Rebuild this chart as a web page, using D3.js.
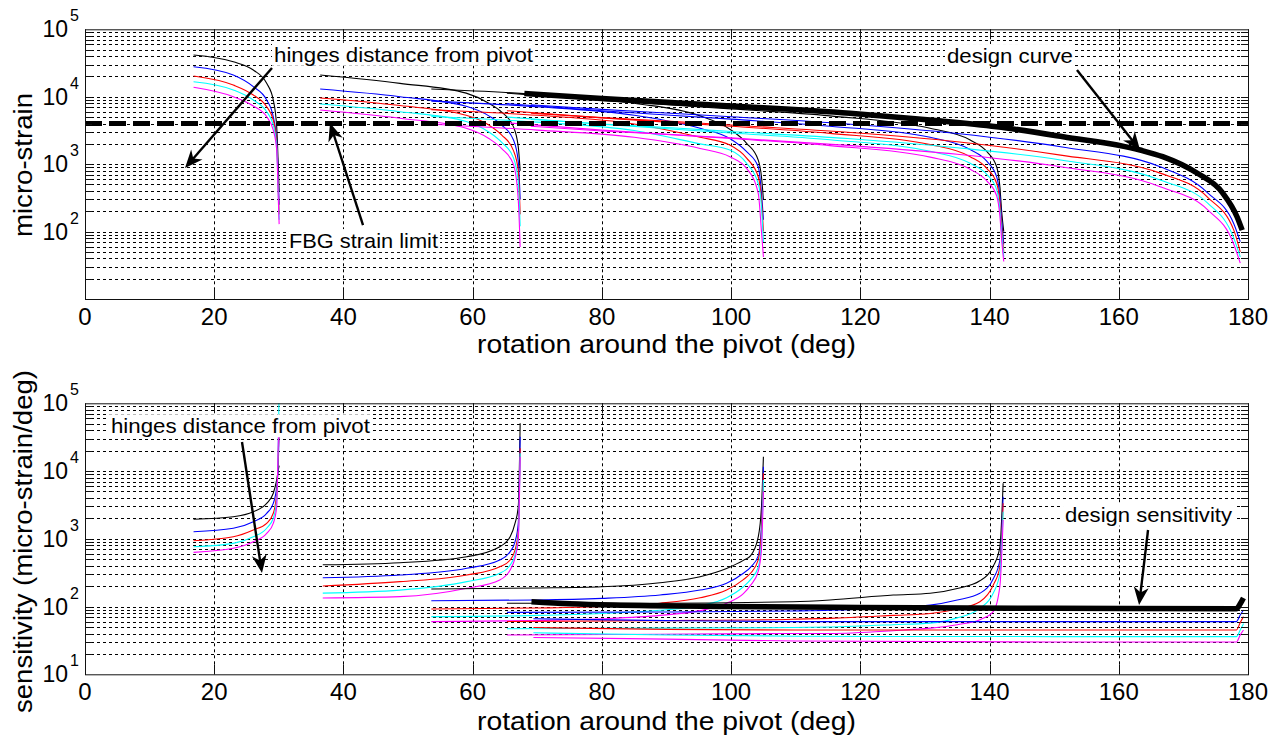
<!DOCTYPE html>
<html>
<head>
<meta charset="utf-8">
<script src="https://cdn.jsdelivr.net/npm/d3@7"></script>
<style>
  body { margin: 0; background: #fff; }
  svg { display: block; }
  text { font-family: "Liberation Sans", Arial, Helvetica, sans-serif; fill: #000; }
</style>
</head>
<body>
<div id="chart"></div>
<script>
// ---- axis ticks ----
const degTicks = [0, 20, 40, 60, 80, 100, 120, 140, 160, 180];
const strainTickExps = [2, 3, 4, 5];
const sensTickExps = [1, 2, 3, 4, 5];
const lineColors = ['#000000', '#0000ff', '#ff0000', '#00ffff', '#ff00ff']; // hinge distances

const fbgStrainLimit = 4000;

// ---- micro-strain (top), one array per hinge distance: black, blue, red, cyan, magenta ----
const strainA_deg = [16.8, 22.95, 26.05, 28.12, 29.14, 29.67, 29.92, 30.05];
const strainA = [
  [41600, 33000, 24900, 15800, 8940, 3590, 915, 400],
  [27900, 21000, 14100, 8940, 5040, 2280, 600, 250],
  [20300, 14900, 10600, 7110, 4510, 2040, 450, 180],
  [16700, 12600, 8940, 5980, 3800, 1810, 350, 150],
  [13800, 10000, 7280, 5040, 3200, 1620, 300, 129]
];
const strainB_deg = [36.4, 48.75, 59.0, 62.5, 64.5, 66.3, 67.06, 67.35];
const strainB = [
  [21000, 15800, 11300, 8000, 5900, 3600, 1800, 800],
  [13000, 10000, 7200, 5200, 3800, 2300, 1100, 300],
  [9600, 7400, 5300, 3800, 2700, 1600, 800, 180],
  [7800, 6000, 4300, 3000, 2100, 1250, 550, 120],
  [6350, 4790, 3400, 2400, 1700, 1000, 293, 59]
];
const strainC_deg = [53.6, 70, 85, 95.2, 99.8, 102.4, 104.2, 104.7, 105.0];
const strainC = [
  [13000, 10800, 8000, 5200, 3300, 2040, 1150, 650, 300],
  [8600, 7100, 5300, 3400, 2400, 1530, 915, 372, 150],
  [6400, 5300, 3950, 2500, 1920, 1230, 650, 293, 100],
  [5100, 4200, 3150, 2000, 1620, 1030, 516, 232, 70],
  [3900, 3200, 2500, 1710, 1290, 867, 369, 100, 42]
];
const strainD_deg = [65.3, 80, 100, 115.3, 130.8, 137, 139.6, 141.1, 141.6, 141.9, 142.2];
const strainD = [
  [11300, 8800, 6600, 5200, 3400, 2280, 1530, 915, 462, 186, 100],
  [7900, 6200, 4650, 3650, 2500, 1650, 1100, 650, 330, 140, 65],
  [6200, 4850, 3650, 2860, 1950, 1290, 860, 520, 270, 110, 50],
  [5000, 3900, 2900, 2300, 1550, 1030, 700, 420, 210, 90, 42],
  [4100, 3200, 2400, 1880, 1270, 840, 560, 340, 170, 70, 36]
];
const strainE_deg = [69, 80, 92, 100, 118, 135, 151, 166.4, 173.8, 177.8, 178.8];
const strainE = [
  null, // black of this set is the design curve
  [7600, 6500, 5600, 5050, 3950, 2850, 1810, 915, 372, 131, 71],
  [5700, 4900, 4250, 3800, 2970, 2150, 1360, 736, 320, 105, 50],
  [4600, 3950, 3400, 3050, 2400, 1750, 1150, 581, 262, 80, 42],
  [3650, 3100, 2700, 2450, 1900, 1400, 915, 462, 208, 65, 34]
];
const designStrain_deg = [68, 80, 100, 118.4, 130.8, 141.1, 151.4, 163.3, 166.8, 172.1, 176.1, 178.3, 179.1];
const designStrain = [11200, 9400, 7300, 5680, 4510, 3590, 2550, 1620, 1290, 738, 372, 166, 105];

// ---- sensitivity (bottom) ----
const sensA_deg = [16.8, 22.95, 26.05, 28.12, 29.14, 29.67, 29.92, 30.05];
const sensA = [
  [1940, 2120, 2510, 3340, 4700, 7390, 10400, 12000],
  [1270, 1430, 1790, 2380, 3340, 5880, 13000, 40000],
  [937, 1070, 1350, 1690, 2380, 4700, 18300, 50000],
  [764, 857, 1070, 1430, 2010, 3740, 30000, 150000],
  [631, 724, 906, 1200, 1690, 2980, 28700, 60000]
];
const sensB_deg = [36.8, 48.75, 59.1, 64.2, 65.8, 66.55, 67.06, 67.35];
const sensB = [
  [413, 444, 544, 764, 1070, 1690, 2980, 50700],
  [266, 292, 367, 487, 646, 900, 1700, 32100],
  [201, 233, 292, 387, 487, 680, 1300, 21700],
  [158, 175, 233, 310, 411, 580, 1100, 18300],
  [134, 140, 186, 247, 347, 520, 950, 16300]
];
const sensC_deg = [53.6, 70, 80, 89, 95.2, 99.3, 101.9, 103, 104.2, 104.7, 105.0];
const sensC = [
  [182, 188, 196, 225, 276, 365, 480, 560, 1070, 3000, 16300],
  [122, 125, 132, 148, 175, 220, 310, 380, 560, 1600, 11600],
  [92, 95, 100, 112, 135, 175, 250, 310, 487, 1300, 9300],
  [71, 74, 79, 88, 103, 135, 196, 250, 380, 900, 7400],
  [60, 62, 66, 74, 87, 112, 155, 205, 330, 700, 5000]
];
const sensD_deg = [65.3, 89, 109.6, 115.3, 125.1, 130.8, 135, 138.5, 140.6, 141.6, 142.1];
const sensD = [
  [112, 112, 118, 125, 148, 157, 185, 240, 400, 764, 6600],
  [82, 83, 86, 88, 97, 105, 125, 157, 260, 487, 4180],
  [60, 62, 65, 67, 74, 79, 92, 118, 210, 387, 3340],
  [47, 48, 49, 50, 54, 57, 68, 94, 160, 310, 2510],
  [38, 39, 40, 40, 44, 48, 54, 64, 85, 200, 1900]
];
const sensE_deg = [69.4, 90, 110, 150, 178.2, 178.8, 179.3];
const sensE = [
  null,
  [66, 62, 60, 60, 60, 75, 89],
  [49, 46, 45, 45, 45, 58, 71],
  [41, 38, 36.5, 36, 36, 45, 56],
  [35, 33, 31, 30, 30, 38, 45]
];
const designSens_deg = [69.1, 75, 81.7, 100, 120, 150, 178.2, 178.8, 179.3];
const designSens = [118, 110, 105, 100, 97, 94, 93, 110, 134];

// ---- annotations, anchored in data units [deg, value] ----
const strainNotes = [
  { text: 'hinges distance from pivot', at: [29.25, 33000], width: 259, from: [28.94, 26660], to: [15.48, 875] },
  { text: 'FBG strain limit', at: [31.57, 56.9], width: 149, from: [43.03, 125], to: [37.92, 4072] },
  { text: 'design curve', at: [133.41, 31600], width: 126, from: [153.53, 24900], to: [163.29, 1620] }
];
const sensNotes = [
  { text: 'hinges distance from pivot', at: [4.02, 36100], width: 259, from: [24.30, 26840], to: [27.39, 313] },
  { text: 'design sensitivity', at: [151.68, 1788], width: 167, from: [164.53, 1349], to: [163.14, 105] }
];

// ------------------------------------------------------------
const W = 1279;
const H = 736;
const svg = d3.select('#chart').append('svg')
  .attr('width', W)
  .attr('height', H);

const drawPanel = (opt) => {
  const x = d3.scaleLinear().domain([0, 180]).range([85, 1248]);
  const y = d3.scaleLog().domain(opt.domain).range([opt.bottom, opt.top]);
  const g = svg.append('g').attr('id', opt.id);

  const clipId = `clip-${opt.id}`;
  svg.append('clipPath').attr('id', clipId)
    .append('rect')
    .attr('x', x(0)).attr('y', opt.top)
    .attr('width', x(180) - x(0)).attr('height', opt.bottom - opt.top);

  // log grid values: 1..9 x 10^e
  const lo = Math.round(Math.log10(opt.domain[0]));
  const hi = Math.round(Math.log10(opt.domain[1]));
  const gridVals = [];
  for (let e = lo; e < hi; e += 1) {
    for (let m = 1; m < 10; m += 1) gridVals.push(m * (10 ** e));
  }
  gridVals.push(10 ** hi);

  const grid = g.append('g').attr('class', 'grid')
    .attr('stroke', '#000').attr('stroke-width', 1).attr('stroke-dasharray', '3,3');
  grid.selectAll('line.h')
    .data(gridVals.filter(v => v > opt.domain[0] && v < opt.domain[1]))
    .enter().append('line')
    .attr('class', 'h')
    .attr('x1', x(0)).attr('x2', x(180))
    .attr('y1', d => Math.round(y(d)) + 0.5).attr('y2', d => Math.round(y(d)) + 0.5);
  grid.selectAll('line.v')
    .data(degTicks.filter(d => d > 0 && d < 180))
    .enter().append('line')
    .attr('class', 'v')
    .attr('x1', d => Math.round(x(d)) + 0.5).attr('x2', d => Math.round(x(d)) + 0.5)
    .attr('y1', opt.top).attr('y2', opt.bottom);

  // curves
  const line = d3.line()
    .x(d => x(d[0]))
    .y(d => y(d[1]))
    .curve(d3.curveMonotoneX);

  const curves = g.append('g').attr('clip-path', `url(#${clipId})`).attr('fill', 'none');
  opt.groups.forEach((grp) => {
    grp.vals.forEach((vals, i) => {
      if (!vals) return;
      curves.append('path')
        .datum(d3.zip(grp.deg, vals))
        .attr('d', line)
        .attr('stroke', lineColors[i])
        .attr('stroke-width', 1.1);
    });
  });

  curves.append('path')
    .datum(d3.zip(opt.design.deg, opt.design.vals))
    .attr('d', line)
    .attr('stroke', '#000')
    .attr('stroke-width', 5.5)
    .attr('stroke-linejoin', 'round');

  if (opt.limit) {
    curves.append('line')
      .attr('x1', x(0)).attr('x2', x(180) + 2)
      .attr('y1', y(opt.limit)).attr('y2', y(opt.limit))
      .attr('stroke', '#000')
      .attr('stroke-width', 5)
      .attr('stroke-dasharray', '17,7');
  }

  // frame and ticks
  const axes = g.append('g').attr('stroke', '#111').attr('stroke-width', 1);
  axes.append('rect')
    .attr('x', x(0) + 0.5).attr('y', opt.top + 0.5)
    .attr('width', x(180) - x(0)).attr('height', opt.bottom - opt.top)
    .attr('fill', 'none');
  const yTickVals = gridVals.filter(v => v > opt.domain[0] && v < opt.domain[1]);
  axes.selectAll('line.yl').data(yTickVals).enter().append('line')
    .attr('x1', x(0)).attr('x2', x(0) + 7)
    .attr('y1', d => Math.round(y(d)) + 0.5).attr('y2', d => Math.round(y(d)) + 0.5);
  axes.selectAll('line.yr').data(yTickVals).enter().append('line')
    .attr('x1', x(180) - 7).attr('x2', x(180))
    .attr('y1', d => Math.round(y(d)) + 0.5).attr('y2', d => Math.round(y(d)) + 0.5);
  axes.selectAll('line.xb').data(degTicks).enter().append('line')
    .attr('x1', d => Math.round(x(d)) + 0.5).attr('x2', d => Math.round(x(d)) + 0.5)
    .attr('y1', opt.bottom).attr('y2', opt.bottom - 10);
  axes.selectAll('line.xt').data(degTicks).enter().append('line')
    .attr('x1', d => Math.round(x(d)) + 0.5).attr('x2', d => Math.round(x(d)) + 0.5)
    .attr('y1', opt.top).attr('y2', opt.top + 10);

  // tick labels
  g.append('g').selectAll('text').data(degTicks).enter().append('text')
    .attr('x', d => x(d))
    .attr('y', opt.bottom + 26)
    .attr('text-anchor', 'middle')
    .style('font-size', '24px')
    .text(d => d);

  const yl = g.append('g').selectAll('g').data(opt.tickExps).enter().append('g');
  yl.append('text')
    .attr('x', 68)
    .attr('y', d => y(10 ** d) + 8)
    .attr('text-anchor', 'end')
    .style('font-size', '23px')
    .text('10');
  yl.append('text')
    .attr('x', 70)
    .attr('y', d => y(10 ** d) - 8)
    .style('font-size', '16px')
    .text(d => d);

  // axis labels
  g.append('text')
    .attr('x', (x(0) + x(180)) / 2)
    .attr('y', opt.xLabelY)
    .attr('text-anchor', 'middle')
    .attr('textLength', 379)
    .attr('lengthAdjust', 'spacingAndGlyphs')
    .style('font-size', '25px')
    .text('rotation around the pivot (deg)');

  g.append('text')
    .attr('transform', `translate(32,${opt.yLabelY}) rotate(-90)`)
    .attr('text-anchor', 'middle')
    .attr('textLength', opt.yLabelLen)
    .attr('lengthAdjust', 'spacingAndGlyphs')
    .style('font-size', '26px')
    .text(opt.yLabel);

  // annotations
  const notes = g.append('g');
  opt.notes.forEach((n) => {
    const x0 = x(n.from[0]);
    const y0 = y(n.from[1]);
    const x1 = x(n.to[0]);
    const y1 = y(n.to[1]);
    const ang = Math.atan2(y1 - y0, x1 - x0);
    const L = 18;
    const w = 7.5;
    const pt = (a, b) => [x1 + a * Math.cos(ang) - b * Math.sin(ang), y1 + a * Math.sin(ang) + b * Math.cos(ang)];
    notes.append('line')
      .attr('x1', x0).attr('y1', y0)
      .attr('x2', pt(-11, 0)[0]).attr('y2', pt(-11, 0)[1])
      .attr('stroke', '#000').attr('stroke-width', 2.4);
    notes.append('polygon')
      .attr('points', [pt(0, 0), pt(-L, w), pt(-L * 0.7, 0), pt(-L, -w)].map(p => p.join(',')).join(' '))
      .attr('fill', '#000');

    const t = notes.append('text')
      .attr('x', x(n.at[0]))
      .attr('y', y(n.at[1]))
      .attr('textLength', n.width)
      .attr('lengthAdjust', 'spacingAndGlyphs')
      .style('font-size', '21px')
      .text(n.text);
    const bb = t.node().getBBox();
    notes.insert('rect', () => t.node())
      .attr('x', bb.x - 2).attr('y', bb.y)
      .attr('width', bb.width + 4).attr('height', bb.height)
      .attr('fill', '#fff');
  });
};

drawPanel({
  id: 'strain',
  top: 29.3,
  bottom: 299,
  domain: [10, 1e5],
  tickExps: strainTickExps,
  groups: [
    { deg: strainA_deg, vals: strainA },
    { deg: strainB_deg, vals: strainB },
    { deg: strainC_deg, vals: strainC },
    { deg: strainD_deg, vals: strainD },
    { deg: strainE_deg, vals: strainE }
  ],
  design: { deg: designStrain_deg, vals: designStrain },
  limit: fbgStrainLimit,
  notes: strainNotes,
  xLabelY: 353,
  yLabel: 'micro-strain',
  yLabelY: 165,
  yLabelLen: 144
});

drawPanel({
  id: 'sens',
  top: 403.3,
  bottom: 674.3,
  domain: [10, 1e5],
  tickExps: sensTickExps,
  groups: [
    { deg: sensA_deg, vals: sensA },
    { deg: sensB_deg, vals: sensB },
    { deg: sensC_deg, vals: sensC },
    { deg: sensD_deg, vals: sensD },
    { deg: sensE_deg, vals: sensE }
  ],
  design: { deg: designSens_deg, vals: designSens },
  limit: null,
  notes: sensNotes,
  xLabelY: 730,
  yLabel: 'sensitivity (micro-strain/deg)',
  yLabelY: 541.5,
  yLabelLen: 343
});
</script>
</body>
</html>
